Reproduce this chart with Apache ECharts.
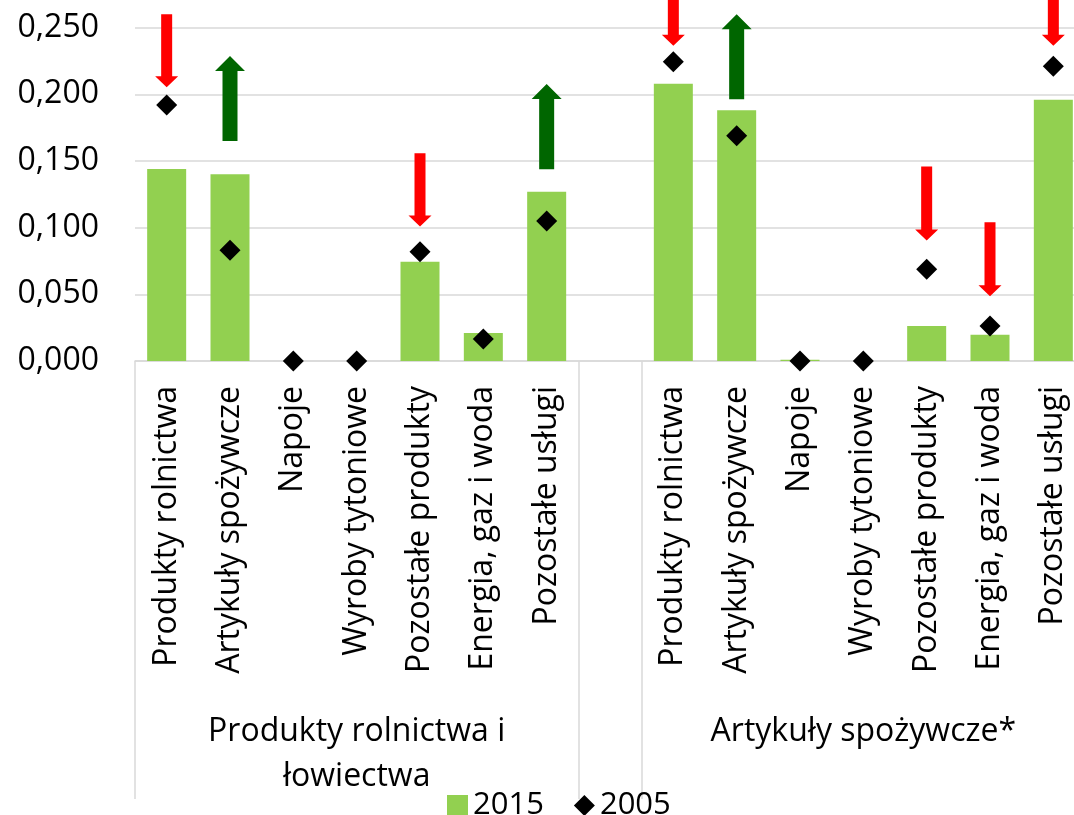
<!DOCTYPE html>
<html>
<head>
<meta charset="utf-8">
<script src="https://cdn.jsdelivr.net/npm/echarts@6/dist/echarts.min.js"></script>
<style>
html,body{margin:0;padding:0;background:#fff;}
#chart{width:1074px;height:815px;}
</style>
</head>
<body>
<div id="chart"></div>
<script>
// ---- data ----
const categories = [
  'Produkty rolnictwa','Artykuły spożywcze','Napoje','Wyroby tytoniowe','Pozostałe produkty','Energia, gaz i woda','Pozostałe usługi',
  '',
  'Produkty rolnictwa','Artykuły spożywcze','Napoje','Wyroby tytoniowe','Pozostałe produkty','Energia, gaz i woda','Pozostałe usługi'
];
const groupNames = ['Produkty rolnictwa i\nłowiectwa', 'Artykuły spożywcze*'];
const groupLabelIndex = [3, 11];
const groupBoundaryIndex = [0, 7, 8];
const values2015 = [0.144, 0.140, 0, 0, 0.0745, 0.021, 0.127, '-', 0.208, 0.188, 0.001, 0, 0.0263, 0.0197, 0.196];
const values2005 = [0.192, 0.083, 0, 0, 0.082, 0.0165, 0.105, '-', 0.2245, 0.169, 0, 0, 0.0688, 0.0263, 0.221];
// arrows: [category index, start value, end value]
const arrows = [
  [0, 0.260, 0.2053],
  [1, 0.165, 0.2288],
  [4, 0.1558, 0.1008],
  [6, 0.1438, 0.2078],
  [8, 0.275, 0.2365],
  [9, 0.1963, 0.260],
  [12, 0.1458, 0.0903],
  [13, 0.104, 0.0485],
  [14, 0.275, 0.2365]
];
const yTicks = { min: 0, max: 0.3, interval: 0.05 };

const FONT = '"Open Sans"';
const chart = echarts.init(document.getElementById('chart'), null, { renderer: 'canvas' });

const option = {
  backgroundColor: '#ffffff',
  animation: false,
  textStyle: { fontFamily: FONT, color: '#000' },
  grid: { left: 135, right: -11, top: -39, bottom: 454, outerBoundsMode: 'none', containLabel: false },
  legend: {
    left: 442, top: 785,
    itemWidth: 21, itemHeight: 21, itemGap: 30,
    textStyle: { fontFamily: FONT, fontSize: 31, color: '#000' },
    data: [{ name: '2015', icon: 'rect' }, { name: '2005', icon: 'diamond' }]
  },
  xAxis: [
    {
      type: 'category', data: categories, position: 'bottom',
      axisLine: { show: true, lineStyle: { color: '#d9d9d9', width: 1.5 } },
      axisTick: { show: false },
      axisLabel: { interval: 0, rotate: 90, margin: 25, fontSize: 32, fontFamily: FONT, color: '#000' },
      splitLine: { show: false }
    },
    {
      type: 'category', data: categories, position: 'bottom', offset: 0,
      axisLine: { show: false },
      axisTick: {
        show: true, length: 438,
        interval: function (i) { return groupBoundaryIndex.indexOf(i) >= 0; },
        lineStyle: { color: '#d9d9d9', width: 1.5 }
      },
      axisLabel: {
        interval: function (i) { return groupLabelIndex.indexOf(i) >= 0; },
        formatter: function (v, i) { const k = groupLabelIndex.indexOf(i); return k >= 0 ? groupNames[k] : ''; },
        margin: 348, fontSize: 32, lineHeight: 45, fontFamily: FONT, color: '#000', align: 'center'
      },
      splitLine: { show: false }
    }
  ],
  yAxis: {
    type: 'value', min: yTicks.min, max: yTicks.max, interval: yTicks.interval,
    axisLine: { show: false }, axisTick: { show: false },
    axisLabel: {
      margin: 36, fontSize: 32, fontFamily: FONT, color: '#000',
      formatter: function (v) { return v.toFixed(3).replace('.', ','); }
    },
    splitLine: { show: true, lineStyle: { color: '#d9d9d9', width: 1.5 } }
  },
  series: [
    {
      name: '2015', type: 'bar', data: values2015, barWidth: 39,
      itemStyle: { color: '#92D050' }, z: 2
    },
    {
      name: '2005', type: 'scatter', data: values2005, symbol: 'diamond', symbolSize: 21,
      itemStyle: { color: '#000', opacity: 1 }, z: 5, clip: false
    },
    {
      name: 'arrows', type: 'custom', data: arrows, z: 6, clip: false,
      encode: { x: 0, y: [1, 2] },
      renderItem: function (params, api) {
        const idx = api.value(0), a = api.value(1), b = api.value(2);
        const p0 = api.coord([idx, a]);
        const p1 = api.coord([idx, b]);
        const up = b > a;
        const shaft = up ? 15 : 11, head = up ? 30 : 23, headH = up ? 15 : 11;
        const x = p0[0];
        const dir = up ? -1 : 1;
        const ys = p0[1], ye = p1[1];
        const yb = ye - dir * headH;
        const pts = [
          [x - shaft / 2, ys], [x + shaft / 2, ys], [x + shaft / 2, yb],
          [x + head / 2, yb], [x, ye], [x - head / 2, yb], [x - shaft / 2, yb]
        ];
        return {
          type: 'polygon', shape: { points: pts },
          style: { fill: up ? '#006600' : '#ff0000' }
        };
      }
    }
  ]
};
chart.setOption(option);
</script>
</body>
</html>
